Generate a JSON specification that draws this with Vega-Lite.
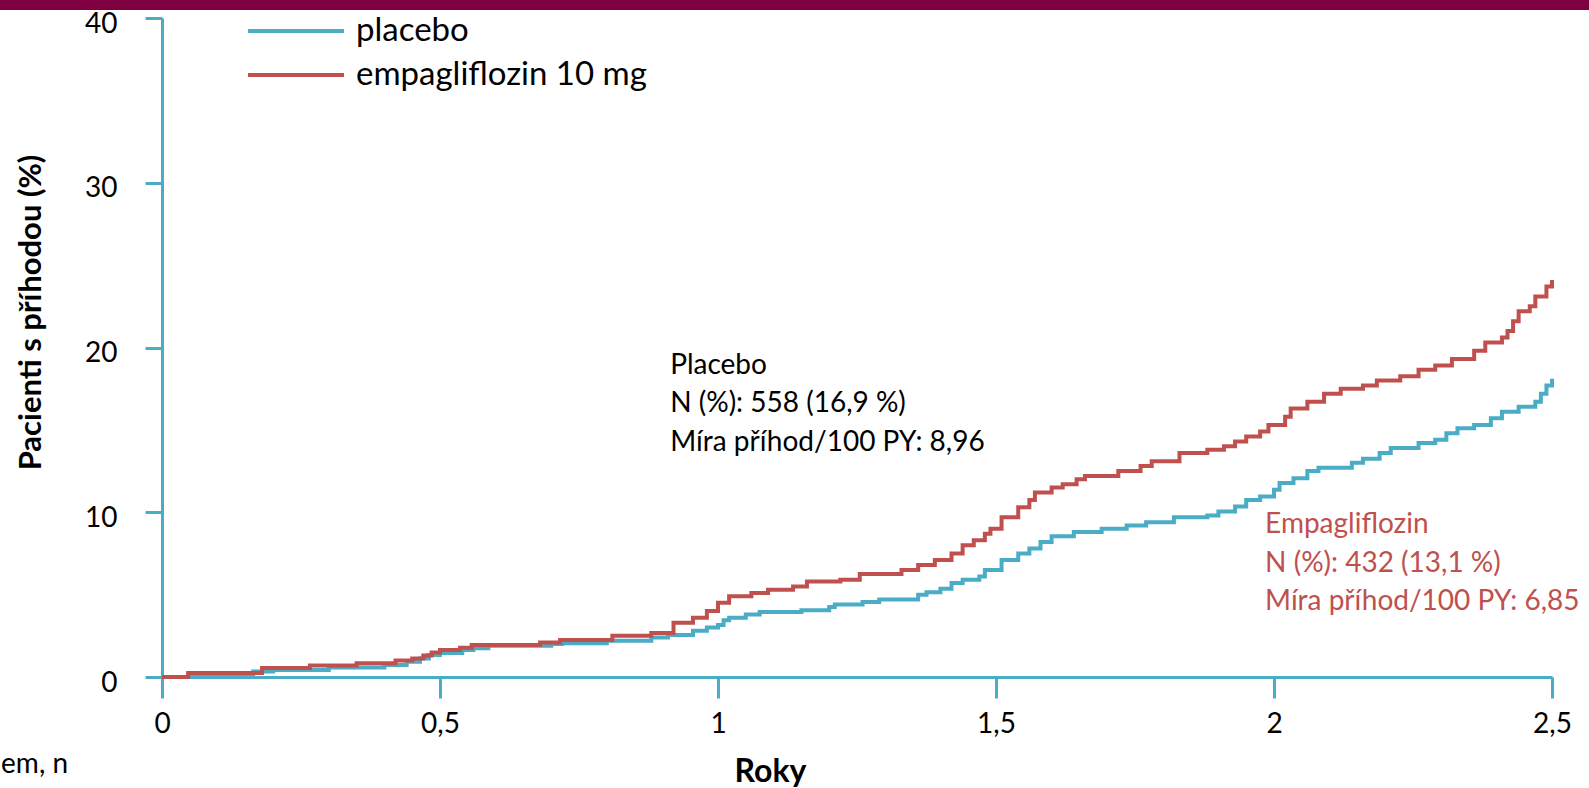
{
  "$schema": "https://vega.github.io/schema/vega-lite/v6.json",
  "width": 1390,
  "height": 659,
  "autosize": {"type": "none"},
  "padding": {"left": 162, "top": 18, "right": 37, "bottom": 111},
  "background": "white",
  "config": {"view": {"stroke": null}, "font": "Lato", "text": {"font": "Lato"}},
  "datasets": {
    "header": [{"t": -0.3, "t2": 2.6, "v": 40.49, "v2": 41.3}],
    "curves": [
      {"group": "placebo", "t": 0, "v": 0},
      {"group": "placebo", "t": 0.08, "v": 0.15},
      {"group": "placebo", "t": 0.164, "v": 0.33},
      {"group": "placebo", "t": 0.2, "v": 0.43},
      {"group": "placebo", "t": 0.3, "v": 0.57},
      {"group": "placebo", "t": 0.4, "v": 0.73},
      {"group": "placebo", "t": 0.44, "v": 0.93},
      {"group": "placebo", "t": 0.464, "v": 1.13},
      {"group": "placebo", "t": 0.48, "v": 1.33},
      {"group": "placebo", "t": 0.5, "v": 1.45},
      {"group": "placebo", "t": 0.54, "v": 1.64},
      {"group": "placebo", "t": 0.56, "v": 1.75},
      {"group": "placebo", "t": 0.587, "v": 1.9},
      {"group": "placebo", "t": 0.7, "v": 2.0},
      {"group": "placebo", "t": 0.72, "v": 2.05},
      {"group": "placebo", "t": 0.8, "v": 2.2},
      {"group": "placebo", "t": 0.88, "v": 2.4},
      {"group": "placebo", "t": 0.91, "v": 2.55},
      {"group": "placebo", "t": 0.955, "v": 2.8},
      {"group": "placebo", "t": 0.98, "v": 3.0},
      {"group": "placebo", "t": 1.0, "v": 3.15},
      {"group": "placebo", "t": 1.01, "v": 3.45},
      {"group": "placebo", "t": 1.02, "v": 3.6},
      {"group": "placebo", "t": 1.05, "v": 3.8},
      {"group": "placebo", "t": 1.075, "v": 3.95},
      {"group": "placebo", "t": 1.15, "v": 4.05},
      {"group": "placebo", "t": 1.2, "v": 4.25},
      {"group": "placebo", "t": 1.21, "v": 4.4},
      {"group": "placebo", "t": 1.26, "v": 4.55},
      {"group": "placebo", "t": 1.29, "v": 4.7},
      {"group": "placebo", "t": 1.36, "v": 5.0},
      {"group": "placebo", "t": 1.375, "v": 5.15},
      {"group": "placebo", "t": 1.4, "v": 5.35},
      {"group": "placebo", "t": 1.42, "v": 5.7},
      {"group": "placebo", "t": 1.44, "v": 5.9},
      {"group": "placebo", "t": 1.47, "v": 6.1},
      {"group": "placebo", "t": 1.48, "v": 6.5},
      {"group": "placebo", "t": 1.51, "v": 7.1},
      {"group": "placebo", "t": 1.54, "v": 7.5},
      {"group": "placebo", "t": 1.56, "v": 7.8},
      {"group": "placebo", "t": 1.58, "v": 8.2},
      {"group": "placebo", "t": 1.6, "v": 8.55},
      {"group": "placebo", "t": 1.64, "v": 8.8},
      {"group": "placebo", "t": 1.69, "v": 9.0},
      {"group": "placebo", "t": 1.735, "v": 9.2},
      {"group": "placebo", "t": 1.77, "v": 9.4},
      {"group": "placebo", "t": 1.82, "v": 9.7},
      {"group": "placebo", "t": 1.88, "v": 9.8},
      {"group": "placebo", "t": 1.9, "v": 10.05},
      {"group": "placebo", "t": 1.93, "v": 10.35},
      {"group": "placebo", "t": 1.95, "v": 10.75},
      {"group": "placebo", "t": 1.975, "v": 10.95},
      {"group": "placebo", "t": 2.0, "v": 11.36},
      {"group": "placebo", "t": 2.01, "v": 11.77},
      {"group": "placebo", "t": 2.035, "v": 12.07},
      {"group": "placebo", "t": 2.06, "v": 12.5},
      {"group": "placebo", "t": 2.08, "v": 12.7},
      {"group": "placebo", "t": 2.14, "v": 13.0},
      {"group": "placebo", "t": 2.16, "v": 13.25},
      {"group": "placebo", "t": 2.19, "v": 13.6},
      {"group": "placebo", "t": 2.21, "v": 13.9},
      {"group": "placebo", "t": 2.26, "v": 14.2},
      {"group": "placebo", "t": 2.29, "v": 14.4},
      {"group": "placebo", "t": 2.31, "v": 14.8},
      {"group": "placebo", "t": 2.33, "v": 15.1},
      {"group": "placebo", "t": 2.36, "v": 15.3},
      {"group": "placebo", "t": 2.39, "v": 15.7},
      {"group": "placebo", "t": 2.41, "v": 16.1},
      {"group": "placebo", "t": 2.44, "v": 16.4},
      {"group": "placebo", "t": 2.47, "v": 16.7},
      {"group": "placebo", "t": 2.48, "v": 17.2},
      {"group": "placebo", "t": 2.49, "v": 17.7},
      {"group": "placebo", "t": 2.5, "v": 18.1},
      {"group": "empagliflozin 10 mg", "t": 0, "v": 0},
      {"group": "empagliflozin 10 mg", "t": 0.047, "v": 0.25},
      {"group": "empagliflozin 10 mg", "t": 0.18, "v": 0.55},
      {"group": "empagliflozin 10 mg", "t": 0.266, "v": 0.7},
      {"group": "empagliflozin 10 mg", "t": 0.35, "v": 0.83},
      {"group": "empagliflozin 10 mg", "t": 0.42, "v": 1.0},
      {"group": "empagliflozin 10 mg", "t": 0.45, "v": 1.13},
      {"group": "empagliflozin 10 mg", "t": 0.47, "v": 1.3},
      {"group": "empagliflozin 10 mg", "t": 0.485, "v": 1.48},
      {"group": "empagliflozin 10 mg", "t": 0.5, "v": 1.64},
      {"group": "empagliflozin 10 mg", "t": 0.536, "v": 1.78},
      {"group": "empagliflozin 10 mg", "t": 0.557, "v": 1.94},
      {"group": "empagliflozin 10 mg", "t": 0.68, "v": 2.1},
      {"group": "empagliflozin 10 mg", "t": 0.716, "v": 2.25},
      {"group": "empagliflozin 10 mg", "t": 0.81, "v": 2.5},
      {"group": "empagliflozin 10 mg", "t": 0.88, "v": 2.67},
      {"group": "empagliflozin 10 mg", "t": 0.92, "v": 3.3},
      {"group": "empagliflozin 10 mg", "t": 0.955, "v": 3.6},
      {"group": "empagliflozin 10 mg", "t": 0.98, "v": 4.0},
      {"group": "empagliflozin 10 mg", "t": 1.0, "v": 4.5},
      {"group": "empagliflozin 10 mg", "t": 1.02, "v": 4.9},
      {"group": "empagliflozin 10 mg", "t": 1.06, "v": 5.1},
      {"group": "empagliflozin 10 mg", "t": 1.09, "v": 5.3},
      {"group": "empagliflozin 10 mg", "t": 1.135, "v": 5.5},
      {"group": "empagliflozin 10 mg", "t": 1.16, "v": 5.8},
      {"group": "empagliflozin 10 mg", "t": 1.22, "v": 5.9},
      {"group": "empagliflozin 10 mg", "t": 1.255, "v": 6.25},
      {"group": "empagliflozin 10 mg", "t": 1.33, "v": 6.5},
      {"group": "empagliflozin 10 mg", "t": 1.36, "v": 6.8},
      {"group": "empagliflozin 10 mg", "t": 1.39, "v": 7.1},
      {"group": "empagliflozin 10 mg", "t": 1.42, "v": 7.5},
      {"group": "empagliflozin 10 mg", "t": 1.44, "v": 8.0},
      {"group": "empagliflozin 10 mg", "t": 1.46, "v": 8.3},
      {"group": "empagliflozin 10 mg", "t": 1.48, "v": 8.7},
      {"group": "empagliflozin 10 mg", "t": 1.49, "v": 9.0},
      {"group": "empagliflozin 10 mg", "t": 1.51, "v": 9.7},
      {"group": "empagliflozin 10 mg", "t": 1.54, "v": 10.3},
      {"group": "empagliflozin 10 mg", "t": 1.56, "v": 10.75},
      {"group": "empagliflozin 10 mg", "t": 1.57, "v": 11.2},
      {"group": "empagliflozin 10 mg", "t": 1.6, "v": 11.5},
      {"group": "empagliflozin 10 mg", "t": 1.62, "v": 11.7},
      {"group": "empagliflozin 10 mg", "t": 1.645, "v": 12.0},
      {"group": "empagliflozin 10 mg", "t": 1.66, "v": 12.2},
      {"group": "empagliflozin 10 mg", "t": 1.72, "v": 12.5},
      {"group": "empagliflozin 10 mg", "t": 1.76, "v": 12.8},
      {"group": "empagliflozin 10 mg", "t": 1.78, "v": 13.1},
      {"group": "empagliflozin 10 mg", "t": 1.83, "v": 13.6},
      {"group": "empagliflozin 10 mg", "t": 1.88, "v": 13.8},
      {"group": "empagliflozin 10 mg", "t": 1.91, "v": 14.0},
      {"group": "empagliflozin 10 mg", "t": 1.93, "v": 14.3},
      {"group": "empagliflozin 10 mg", "t": 1.95, "v": 14.6},
      {"group": "empagliflozin 10 mg", "t": 1.975, "v": 14.9},
      {"group": "empagliflozin 10 mg", "t": 1.99, "v": 15.3},
      {"group": "empagliflozin 10 mg", "t": 2.02, "v": 15.8},
      {"group": "empagliflozin 10 mg", "t": 2.03, "v": 16.3},
      {"group": "empagliflozin 10 mg", "t": 2.06, "v": 16.7},
      {"group": "empagliflozin 10 mg", "t": 2.09, "v": 17.2},
      {"group": "empagliflozin 10 mg", "t": 2.12, "v": 17.5},
      {"group": "empagliflozin 10 mg", "t": 2.16, "v": 17.7},
      {"group": "empagliflozin 10 mg", "t": 2.185, "v": 18.0},
      {"group": "empagliflozin 10 mg", "t": 2.227, "v": 18.25},
      {"group": "empagliflozin 10 mg", "t": 2.26, "v": 18.65},
      {"group": "empagliflozin 10 mg", "t": 2.29, "v": 18.9},
      {"group": "empagliflozin 10 mg", "t": 2.32, "v": 19.3},
      {"group": "empagliflozin 10 mg", "t": 2.36, "v": 19.8},
      {"group": "empagliflozin 10 mg", "t": 2.38, "v": 20.3},
      {"group": "empagliflozin 10 mg", "t": 2.41, "v": 20.6},
      {"group": "empagliflozin 10 mg", "t": 2.42, "v": 21.0},
      {"group": "empagliflozin 10 mg", "t": 2.43, "v": 21.6},
      {"group": "empagliflozin 10 mg", "t": 2.44, "v": 22.2},
      {"group": "empagliflozin 10 mg", "t": 2.46, "v": 22.5},
      {"group": "empagliflozin 10 mg", "t": 2.47, "v": 23.1},
      {"group": "empagliflozin 10 mg", "t": 2.49, "v": 23.7},
      {"group": "empagliflozin 10 mg", "t": 2.5, "v": 24.1}
    ],
    "placeboNote": [{"t": 0.914, "v": 18.4, "label": "Placebo\nN (%): 558 (16,9 %)\nMíra příhod/100 PY: 8,96"}],
    "empaNote": [{"t": 1.984, "v": 8.74, "label": "Empagliflozin\nN (%): 432 (13,1 %)\nMíra příhod/100 PY: 6,85"}],
    "cutNote": [{"t": -0.169, "v": -5.83, "label": "em, n"}]
  },
  "encoding": {
    "x": {
      "field": "t",
      "type": "quantitative",
      "scale": {"domain": [0, 2.5], "nice": false, "zero": false},
      "axis": {
        "values": [0, 0.5, 1, 1.5, 2, 2.5],
        "format": "~g",
        "labelExpr": "replace(datum.label, '.', ',')",
        "grid": false,
        "domainColor": "#4BACC6",
        "domainWidth": 3,
        "tickColor": "#4BACC6",
        "tickWidth": 3,
        "tickSize": 21,
        "labelFont": "Lato",
        "labelFontSize": 28,
        "labelColor": "black",
        "labelPadding": 12,
        "labelFlush": false,
        "title": "Roky",
        "titleFont": "Lato",
        "titleFontSize": 32,
        "titleFontWeight": "bold",
        "titleColor": "black",
        "titleX": 608,
        "titleY": 104,
        "titleAlign": "center",
        "titleBaseline": "alphabetic"
      }
    },
    "y": {
      "field": "v",
      "type": "quantitative",
      "scale": {"domain": [0, 40], "nice": false},
      "axis": {
        "values": [0, 10, 20, 30, 40],
        "grid": false,
        "domainColor": "#4BACC6",
        "domainWidth": 3,
        "tickColor": "#4BACC6",
        "tickWidth": 3,
        "tickSize": 17,
        "labelFont": "Lato",
        "labelFontSize": 28,
        "labelColor": "black",
        "labelPadding": 28,
        "labelOffset": 6,
        "labelFlush": false,
        "title": "Pacienti s příhodou (%)",
        "titleFont": "Lato",
        "titleFontSize": 31,
        "titleFontWeight": "bold",
        "titleColor": "black",
        "titleX": -131,
        "titleY": 294,
        "titleAngle": -90,
        "titleAlign": "center",
        "titleBaseline": "middle"
      }
    }
  },
  "layer": [
    {
      "data": {"name": "header"},
      "mark": {"type": "rect", "color": "#7F0040", "clip": false},
      "encoding": {"x2": {"field": "t2"}, "y2": {"field": "v2"}}
    },
    {
      "data": {"name": "curves"},
      "mark": {"type": "line", "interpolate": "step-after", "strokeWidth": 4},
      "encoding": {
        "color": {
          "field": "group",
          "type": "nominal",
          "scale": {"domain": ["placebo", "empagliflozin 10 mg"], "range": ["#4BACC6", "#C0504D"]},
          "legend": {
            "orient": "none",
            "legendX": 84,
            "legendY": -4,
            "title": null,
            "symbolType": "stroke",
            "symbolStrokeWidth": 4,
            "symbolSize": 9216,
            "clipHeight": 34,
            "labelFont": "Lato",
            "labelFontSize": 33,
            "labelColor": "black",
            "labelOffset": 10,
            "rowPadding": 10,
            "labelLimit": 600
          }
        }
      }
    },
    {
      "data": {"name": "placeboNote"},
      "mark": {"type": "text", "align": "left", "baseline": "alphabetic", "lineBreak": "\n", "lineHeight": 38.5, "fontSize": 28, "font": "Lato", "color": "black"},
      "encoding": {"text": {"field": "label"}}
    },
    {
      "data": {"name": "empaNote"},
      "mark": {"type": "text", "align": "left", "baseline": "alphabetic", "lineBreak": "\n", "lineHeight": 38.5, "fontSize": 28, "font": "Lato", "color": "#C0504D"},
      "encoding": {"text": {"field": "label"}}
    },
    {
      "data": {"name": "cutNote"},
      "mark": {"type": "text", "align": "right", "baseline": "alphabetic", "fontSize": 28, "font": "Lato", "color": "black", "clip": false},
      "encoding": {"text": {"field": "label"}}
    }
  ]
}
